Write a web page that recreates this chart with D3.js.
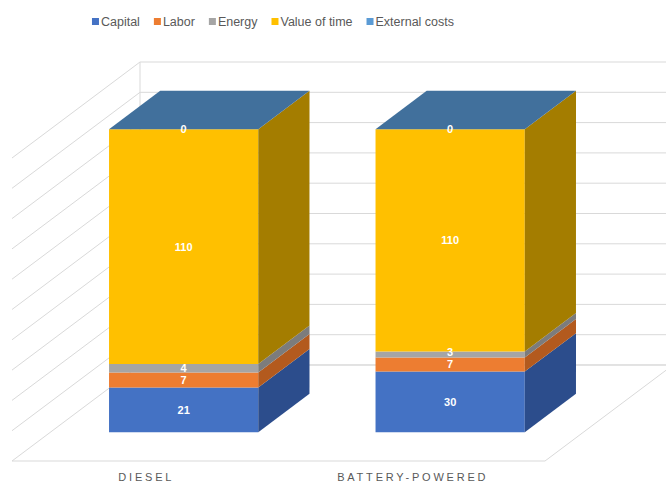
<html lang="en">
<head>
<meta charset="UTF-8">
<title>Cost comparison 3D stacked columns</title>
<script src="https://d3js.org/d3.v7.min.js"></script>
<style>
  body { margin: 0; background: #fff; font-family: "Liberation Sans", Arial, sans-serif; }
  .grid { stroke: #d9d9d9; stroke-width: 1; fill: none; }
  .legend text { font-size: 12.5px; fill: #595959; }
  .val { font-size: 11px; font-weight: bold; fill: #fff; text-anchor: middle; }
  .x-axis text { font-size: 11px; fill: #595959; letter-spacing: 2.8px; }
</style>
</head>
<body>
<div id="chart"></div>
<script>
// data
const categories = ["DIESEL", "BATTERY-POWERED"];
const seriesNames = ["Capital", "Labor", "Energy", "Value of time", "External costs"];
const capital = [21, 30];
const labor = [7, 7];
const energy = [4, 3];
const valueOfTime = [110, 110];
const externalCosts = [0, 0];

const colors = ["#4472C4", "#ED7D31", "#A5A5A5", "#FFC000", "#5B9BD5"];
const sideColors = ["#2C4D8C", "#B35A1E", "#7C7C7C", "#A47D00", "#3E6E9A"];
const topColor = "#41709C";

const W = 666, H = 489;

const rows = categories.map((c, i) => ({
  cat: c,
  "Capital": capital[i],
  "Labor": labor[i],
  "Energy": energy[i],
  "Value of time": valueOfTime[i],
  "External costs": externalCosts[i]
}));

// 100% stacked
const stacked = d3.stack().keys(seriesNames).offset(d3.stackOffsetExpand)(rows);

// front plane scales
const x = d3.scaleBand().domain(categories).range([12, 545])
  .paddingInner(0.44).paddingOuter(0.22);
const y = d3.scaleLinear().domain([0, 1]).range([461, 158]);
// depth: 0 = front of floor, 1 = back wall
const dx = d3.scaleLinear().domain([0, 1]).range([0, 128]);
const dy = d3.scaleLinear().domain([0, 1]).range([0, -96]);
const z0 = 0.3, z1 = 0.7;

const P = (px, v, z) => [px + dx(z), y(v) + dy(z)];

const svg = d3.select("#chart").append("svg")
  .attr("width", W).attr("height", H);

// walls and gridlines
const g = svg.append("g");
const ticks = y.ticks(10);
// back wall horizontals
g.selectAll(".bw").data(ticks).enter().append("line")
  .attr("class", "grid")
  .attr("x1", P(x.range()[0], 0, 1)[0]).attr("x2", P(x.range()[1], 0, 1)[0])
  .attr("y1", d => P(0, d, 1)[1]).attr("y2", d => P(0, d, 1)[1]);
// side wall diagonals
g.selectAll(".sw").data(ticks.filter(t => t > 0)).enter().append("line")
  .attr("class", "grid")
  .attr("x1", P(x.range()[0], 0, 0)[0]).attr("x2", P(x.range()[0], 0, 1)[0])
  .attr("y1", d => P(0, d, 0)[1]).attr("y2", d => P(0, d, 1)[1]);
// back wall left edge
g.append("line").attr("class", "grid")
  .attr("x1", P(x.range()[0], 0, 1)[0]).attr("x2", P(x.range()[0], 0, 1)[0])
  .attr("y1", P(0, 0, 1)[1]).attr("y2", P(0, 1, 1)[1]);
// floor outline
const floor = [P(x.range()[0], 0, 0), P(x.range()[1], 0, 0), P(x.range()[1], 0, 1), P(x.range()[0], 0, 1)];
g.append("path").attr("class", "grid")
  .attr("d", d3.line()(floor) + "Z");

// bars
const bw = x.bandwidth();
stacked.forEach((layer, si) => {
  layer.forEach((seg, ci) => {
    const cat = categories[ci];
    const x0 = x(cat), x1 = x(cat) + bw;
    const [v0, v1] = seg;
    if (v1 - v0 > 0) {
      // front face
      svg.append("path").attr("fill", colors[si])
        .attr("d", d3.line()([P(x0, v0, z0), P(x1, v0, z0), P(x1, v1, z0), P(x0, v1, z0)]) + "Z");
      // side face
      svg.append("path").attr("fill", sideColors[si])
        .attr("d", d3.line()([P(x1, v0, z0), P(x1, v0, z1), P(x1, v1, z1), P(x1, v1, z0)]) + "Z");
    }
  });
});
// top faces
categories.forEach(cat => {
  const x0 = x(cat), x1 = x(cat) + bw;
  svg.append("path").attr("fill", topColor)
    .attr("d", d3.line()([P(x0, 1, z0), P(x1, 1, z0), P(x1, 1, z1), P(x0, 1, z1)]) + "Z");
});

// value labels, nudged up a little when they would sit on the one below
const lastY = categories.map(() => Infinity);
stacked.forEach((layer, si) => {
  layer.forEach((seg, ci) => {
    const cat = categories[ci];
    const cx = x(cat) + bw / 2;
    const mid = (seg[0] + seg[1]) / 2;
    const p = P(cx, mid, z0);
    let ty = p[1];
    if (si < 4 && lastY[ci] - ty < 12) ty = lastY[ci] - 12;
    lastY[ci] = ty;
    svg.append("text").attr("class", "val")
      .attr("x", p[0]).attr("y", ty)
      .attr("dy", "0.36em")
      .text(seg.data[seriesNames[si]]);
  });
});

// category axis
const xAxis = d3.axisBottom(x).tickSize(0).tickPadding(0);
svg.append("g").attr("class", "x-axis")
  .attr("transform", `translate(1, 473)`)
  .call(xAxis)
  .call(a => a.select(".domain").remove())
  .selectAll("text").attr("font-family", "Liberation Sans, Arial, sans-serif");

// legend
const legend = svg.append("g").attr("class", "legend");
let lx = 0;
seriesNames.forEach((name, i) => {
  const it = legend.append("g");
  it.append("rect").attr("width", 7).attr("height", 7).attr("y", -4).attr("fill", colors[i]);
  const t = it.append("text").attr("x", 9).attr("dy", "0.35em").text(name);
  const w = 9 + t.node().getComputedTextLength();
  it.attr("transform", `translate(${lx},0)`);
  lx += w + 14;
});
const legW = lx - 14;
legend.attr("transform", `translate(${273 - legW / 2}, 22)`);
</script>
</body>
</html>
